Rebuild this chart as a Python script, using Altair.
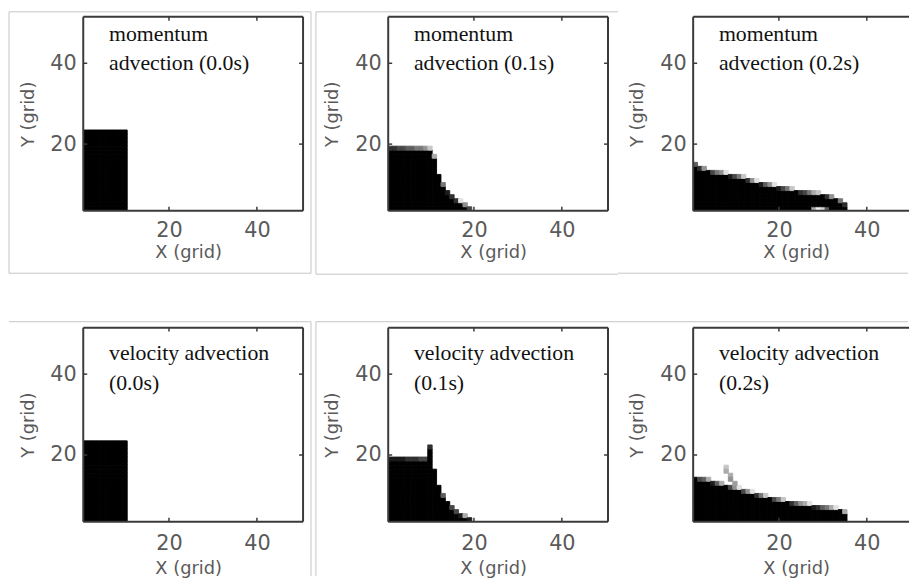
import altair as alt
import pandas as pd

# ---------------- data ----------------
X_TICKS = [20, 40]
Y_TICKS = [20, 40]
X_DOMAIN = [0.5, 50.5]
X_DOMAIN_CUT = [0.5, 49.6]   # right-hand panels are cut by the image edge
Y_DOMAIN = [3.5, 51.5]

LABELS = [
    ["momentum", "advection (0.0s)"],
    ["momentum", "advection (0.1s)"],
    ["momentum", "advection (0.2s)"],
    ["velocity advection", "(0.0s)"],
    ["velocity advection", "(0.1s)"],
    ["velocity advection", "(0.2s)"],
]

# fluid surface height (grid units) of each column x = 1, 2, 3, ...
H_MOM_00 = [23.5, 23.5, 23.5, 23.5, 23.5, 23.5, 23.5, 23.5, 23.5, 23.5]
H_MOM_01 = [19.3, 19.3, 19.2, 19.2, 19.1, 19.1, 19.0, 19.0, 18.9, 18.7,
            16.8, 12.5, 10.0, 8.4, 7.3, 6.3, 5.6, 4.9, 4.2]
H_MOM_02 = [15.1, 14.3, 13.9, 13.5, 13.2, 13.0, 12.9, 12.6, 12.4, 12.2,
            12.0, 11.7, 11.3, 10.9, 10.6, 10.4, 10.1, 9.9, 9.6, 9.4,
            9.2, 9.0, 8.7, 8.5, 8.3, 8.2, 8.0, 7.8, 7.7, 7.5,
            7.3, 6.9, 6.5, 6.0, 5.3]
H_VEL_00 = [23.5, 23.5, 23.5, 23.5, 23.5, 23.5, 23.5, 23.5, 23.5, 23.5]
H_VEL_01 = [19.4, 19.4, 19.4, 19.4, 19.3, 19.3, 19.3, 19.2, 19.2, 22.3,
            16.5, 12.5, 10.1, 8.5, 7.2, 6.2, 5.4, 4.8, 4.4]
H_VEL_02 = [14.5, 14.2, 14.1, 13.8, 13.4, 13.1, 12.8, 12.5, 12.2, 11.9,
            11.6, 11.2, 10.9, 10.6, 10.3, 10.0, 9.7, 9.5, 9.2, 9.0,
            8.7, 8.5, 8.3, 8.1, 7.9, 7.8, 7.6, 7.4, 7.3, 7.1,
            7.0, 6.8, 6.6, 6.5, 5.8]
HEIGHTS = [H_MOM_00, H_MOM_01, H_MOM_02, H_VEL_00, H_VEL_01, H_VEL_02]

# single cells that differ from the column profile: (x, y, fill fraction)
E_MOM_02 = [(28, 4, 0.3), (29, 4, 0.05), (30, 4, 0.15), (31, 4, 0.6)]
E_VEL_02 = [(8, 17, 0.2), (8, 16, 0.3), (9, 15, 0.3), (9, 14, 0.4), (10, 13, 0.35)]
EXTRA = [[], [], E_MOM_02, [], [], E_VEL_02]


def cell_table(heights, extra):
    vals = {}
    for i, h in enumerate(heights):
        x = i + 1
        y = 4
        while y - 0.5 < h:
            vals[(x, y)] = min(1.0, h - (y - 0.5))
            y += 1
    for x, y, v in extra:
        vals[(x, y)] = v
    rows = [{"x0": x - 0.5, "x1": x + 0.5, "y0": y - 0.5, "y1": y + 0.5, "v": v}
            for (x, y), v in vals.items() if v > 0.01]
    return pd.DataFrame(rows)


GREY_TXT = "#5a5a5a"
BORDER = "#3a3a3a"
FRAME = "#c4c4c4"
ONE = pd.DataFrame({"d": [0]})

# decorative light-grey frames around the pasted pictures (pixels, relative to plot)
FRAMES = {
    0: [(-75, 230, -5, -5), (-75, 230, 259, 259), (-75, -75, -5, 259), (230, 230, -5, 259)],
    1: [(-73, 232, -5, -5), (-73, 232, 260, 260), (-73, -73, -5, 260)],
    2: [(-76, 217, 259, 259)],
    3: [(-75, 230, -6, -6), (230, 230, -6, 251)],
    4: [(-73, 232, -6, -6), (-73, -73, -6, 251)],
    5: [(-76, 217, -6, -6)],
}


def panel(idx):
    row, col = divmod(idx, 3)
    W = 222 if col < 2 else 218
    H = 196
    xdom = X_DOMAIN if col < 2 else X_DOMAIN_CUT
    xs = alt.Scale(domain=xdom, nice=False, zero=False)
    ys = alt.Scale(domain=Y_DOMAIN, nice=False, zero=False)
    xaxis = alt.Axis(values=X_TICKS, title="X (grid)", ticks=False, domain=False, grid=False,
                     labelFont="DejaVu Sans", labelFontSize=21, labelColor=GREY_TXT,
                     labelPadding=9 if row == 0 else 11,
                     titleFont="DejaVu Sans", titleFontSize=18, titleFontWeight="normal",
                     titleColor=GREY_TXT, titleX=W / 2 - 5, titleY=47 if row == 0 else 52,
                     titleAlign="center", titleBaseline="alphabetic")
    yaxis = alt.Axis(values=Y_TICKS, title="Y (grid)", ticks=False, domain=False, grid=False,
                     labelFont="DejaVu Sans", labelFontSize=21, labelColor=GREY_TXT,
                     labelPadding=7,
                     titleFont="DejaVu Sans", titleFontSize=18, titleFontWeight="normal",
                     titleColor=GREY_TXT, titlePadding=13)
    X = lambda f: alt.X(f, scale=xs, axis=xaxis)
    Y = lambda f: alt.Y(f, scale=ys, axis=yaxis)

    cscale = alt.Scale(domain=[0, 1], range=["#ffffff", "#000000"])
    heat = alt.Chart(cell_table(HEIGHTS[idx], EXTRA[idx])).mark_rect(strokeWidth=0.9, clip=True).encode(
        x=X("x0:Q"), x2="x1:Q", y=Y("y0:Q"), y2="y1:Q",
        color=alt.Color("v:Q", scale=cscale, legend=None),
        stroke=alt.Stroke("v:Q", scale=cscale, legend=None),
    )

    x0, x1 = xdom
    y0, y1 = Y_DOMAIN
    brd = [{"x0": x0, "x1": x1, "y0": y1, "y1": y1},
           {"x0": x0, "x1": x1, "y0": y0, "y1": y0},
           {"x0": x0, "x1": x0, "y0": y0, "y1": y1}]
    if col < 2:
        brd.append({"x0": x1, "x1": x1, "y0": y0, "y1": y1})
    border = alt.Chart(pd.DataFrame(brd)).mark_rule(color=BORDER, strokeWidth=2).encode(
        x=X("x0:Q"), x2="x1:Q", y=Y("y0:Q"), y2="y1:Q")

    xt = pd.DataFrame({"t": X_TICKS})
    yt = pd.DataFrame({"t": Y_TICKS})
    tb = alt.Chart(xt).mark_rule(color=BORDER, strokeWidth=1.5).encode(
        x=X("t:Q"), y=alt.value(H), y2=alt.value(H - 4))
    tt = alt.Chart(xt).mark_rule(color=BORDER, strokeWidth=1.5).encode(
        x=X("t:Q"), y=alt.value(0), y2=alt.value(4))
    tl = alt.Chart(yt).mark_rule(color=BORDER, strokeWidth=1.5).encode(
        y=Y("t:Q"), x=alt.value(0), x2=alt.value(4))
    layers = [heat, border, tb, tt, tl]
    if col < 2:
        tr = alt.Chart(yt).mark_rule(color=BORDER, strokeWidth=1.5).encode(
            y=Y("t:Q"), x=alt.value(W), x2=alt.value(W - 4))
        layers.append(tr)

    label = alt.Chart(ONE).mark_text(
        font="Liberation Serif", fontSize=22, color="#111111", align="left",
        baseline="alphabetic", lineHeight=30,
    ).encode(text=alt.value(LABELS[idx]), x=alt.value(26), y=alt.value(24 if row == 0 else 33))
    layers.append(label)

    for (a, b, c, d) in FRAMES[idx]:
        if c == d:
            fr = alt.Chart(ONE).mark_rule(color=FRAME, strokeWidth=1).encode(
                x=alt.value(a), x2=alt.value(b), y=alt.value(c))
        else:
            fr = alt.Chart(ONE).mark_rule(color=FRAME, strokeWidth=1).encode(
                x=alt.value(a), y=alt.value(c), y2=alt.value(d))
        layers.append(fr)

    return alt.layer(*layers).properties(width=W, height=H)


panels = [panel(i) for i in range(6)]
chart = alt.concat(
    *panels, columns=3, spacing={"row": 118, "column": 86}, bounds="flush"
).properties(padding=0, background="white").configure_view(stroke=None)

chart.save("out.html", embed_options={"renderer": "svg", "actions": False})
